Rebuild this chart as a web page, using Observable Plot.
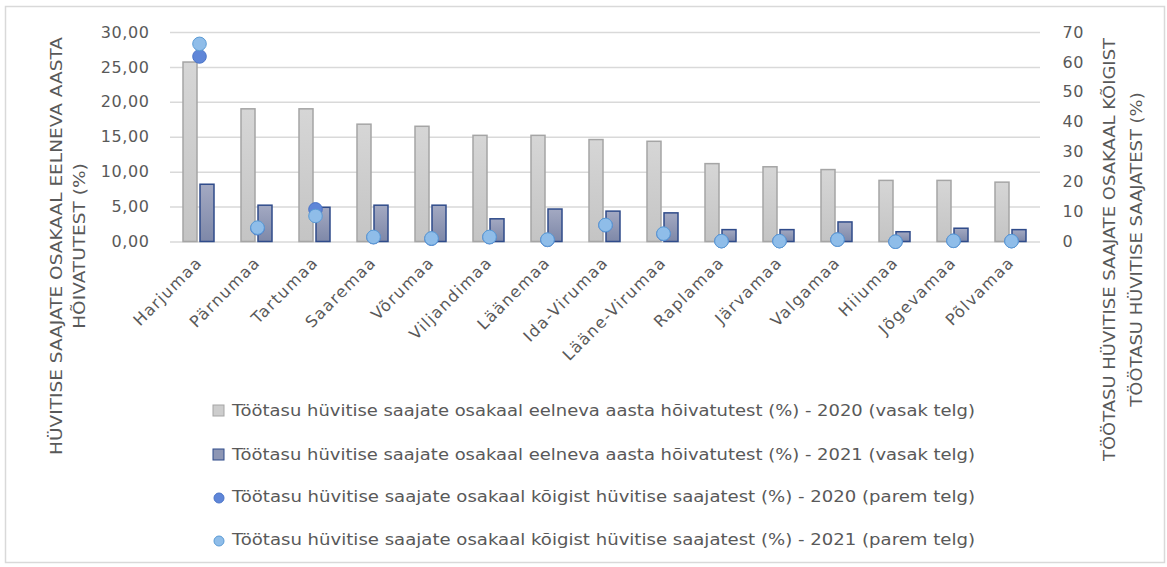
<!DOCTYPE html>
<html>
<head>
<meta charset="utf-8">
<script src="https://cdn.jsdelivr.net/npm/d3@7"></script>
<script src="https://cdn.jsdelivr.net/npm/@observablehq/plot@0.6"></script>
<style>
  html, body { margin: 0; padding: 0; background: #fff; }
  #wrap { position: relative; width: 1167px; height: 567px; overflow: hidden; font-family: "DejaVu Sans", sans-serif; }
  #chart { position: absolute; left: 0; top: 0; }
  #overlay { position: absolute; left: 0; top: 0; pointer-events: none; }
</style>
</head>
<body>
<div id="wrap">
  <div id="chart"></div>
  <svg id="overlay" width="1167" height="567"></svg>
</div>
<script>
// ---- data ----
const regions = ["Harjumaa","Pärnumaa","Tartumaa","Saaremaa","Võrumaa","Viljandimaa","Läänemaa","Ida-Virumaa","Lääne-Virumaa","Raplamaa","Järvamaa","Valgamaa","Hiiumaa","Jõgevamaa","Põlvamaa"];
// share of previous year's employed (%), left axis
const employed2020 = [25.7, 19.0, 19.0, 16.8, 16.5, 15.2, 15.2, 14.6, 14.35, 11.15, 10.7, 10.3, 8.75, 8.75, 8.5];
const employed2021 = [8.2, 5.2, 4.9, 5.2, 5.2, 3.25, 4.65, 4.35, 4.1, 1.7, 1.7, 2.8, 1.4, 1.9, 1.7];
// share of all benefit recipients (%), right axis
const recipients2020 = [62.0, 4.6, 10.9, 1.6, 1.1, 1.6, 0.7, 5.6, 2.7, 0.3, 0.3, 0.8, 0.1, 0.4, 0.3];
const recipients2021 = [66.2, 4.8, 8.7, 1.7, 1.2, 1.7, 0.8, 5.7, 2.8, 0.3, 0.3, 0.8, 0.1, 0.4, 0.3];
const leftTicks = [0, 5, 10, 15, 20, 25, 30];
const rightTicks = [0, 10, 20, 30, 40, 50, 60, 70];
const leftMax = 30, rightMax = 70;

const legendLabels = [
  "Töötasu hüvitise saajate osakaal eelneva aasta hõivatutest (%) - 2020 (vasak telg)",
  "Töötasu hüvitise saajate osakaal eelneva aasta hõivatutest (%) - 2021 (vasak telg)",
  "Töötasu hüvitise saajate osakaal kõigist hüvitise saajatest (%) - 2020 (parem telg)",
  "Töötasu hüvitise saajate osakaal kõigist hüvitise saajatest (%) - 2021 (parem telg)"
];
const leftTitle = ["HÜVITISE SAAJATE OSAKAAL EELNEVA AASTA", "HÕIVATUTEST (%)"];
const rightTitle = ["TÖÖTASU HÜVITISE SAAJATE OSAKAAL KÕIGIST", "TÖÖTASU HÜVITISE SAAJATEST (%)"];

const rows = regions.map((r, i) => ({
  region: r,
  e2020: employed2020[i], e2021: employed2021[i],
  r2020: recipients2020[i], r2021: recipients2021[i]
}));
const toLeft = v => v * leftMax / rightMax;
const fmt = d => d.toFixed(2).replace(".", ",");

const textColor = "#595959";

const chart = Plot.plot({
  width: 1167,
  height: 380,
  marginLeft: 170,
  marginRight: 127,
  marginTop: 32,
  marginBottom: 138.5,
  style: { fontFamily: "DejaVu Sans, sans-serif", fontSize: "16px", color: textColor, background: "transparent" },
  x: { domain: regions, padding: 0, label: null },
  y: { domain: [0, leftMax], label: null },
  marks: [
    Plot.ruleY(leftTicks, { stroke: "#d9d9d9", strokeWidth: 1.5 }),
    Plot.barY(rows, { x: "region", y: "e2020", insetLeft: 13, insetRight: 31, fill: "url(#gGray)", stroke: "#a5a5a5", strokeWidth: 1.5 }),
    Plot.barY(rows, { x: "region", y: "e2021", insetLeft: 30, insetRight: 14, fill: "url(#gBlue)", stroke: "#2f4b8a", strokeWidth: 1.5 }),
    Plot.dot(rows, { x: "region", y: d => toLeft(d.r2020), r: 6.8, fill: "#5f86d8", stroke: "#4a74c8", strokeWidth: 1 }),
    Plot.dot(rows, { x: "region", y: d => toLeft(d.r2021), r: 6.8, fill: "#8fbde9", stroke: "#5b9bd5", strokeWidth: 1 }),
    Plot.axisY(leftTicks, { anchor: "left", tickSize: 0, tickPadding: 21, tickFormat: fmt, label: null }),
    Plot.axisY(rightTicks.map(toLeft), { anchor: "right", tickSize: 0, tickPadding: 22, tickFormat: d => String(Math.round(d * rightMax / leftMax)), label: null }),
    Plot.axisX({ tickRotate: -45, tickSize: 0, tickPadding: 18, label: null })
  ]
});

d3.select(chart).insert("defs", ":first-child").html(`
  <linearGradient id="gGray" x1="0" y1="0" x2="0" y2="1">
    <stop offset="0" stop-color="#d6d6d6"/><stop offset="1" stop-color="#c4c4c4"/>
  </linearGradient>
  <linearGradient id="gBlue" x1="0" y1="0" x2="0" y2="1">
    <stop offset="0" stop-color="#a3a9c2"/><stop offset="1" stop-color="#7e88a8"/>
  </linearGradient>`);
d3.select(chart).selectAll("g[aria-label='y-axis tick label']").style("letter-spacing", "0.6px");
d3.select(chart).selectAll("g[aria-label='x-axis tick label']").style("letter-spacing", "1.4px");
document.getElementById("chart").appendChild(chart);

// ---- overlay: border, axis titles, legend ----
const ov = d3.select("#overlay");
ov.append("rect").attr("x", 5.5).attr("y", 6.5).attr("width", 1159).attr("height", 556)
  .attr("fill", "none").attr("stroke", "#d9d9d9").attr("stroke-width", 1.5);

// two-line rotated axis title: first line fitted between yBottom and yTop,
// second line scaled by the same factor and centred on the same point
function vtitle(x1, x2, yBottom, yTop, lines) {
  const mk = (x, t) => ov.append("text")
    .attr("dominant-baseline", "central")
    .attr("text-anchor", "start")
    .attr("fill", textColor)
    .style("font-family", "DejaVu Sans, sans-serif")
    .style("font-size", "15px")
    .text(t);
  const a = mk(x1, lines[0]), b = mk(x2, lines[1]);
  const la = a.node().getComputedTextLength(), lb = b.node().getComputedTextLength();
  const target = yBottom - yTop, k = target / la, lenB = lb * k;
  const cy = (yBottom + yTop) / 2;
  a.attr("transform", `translate(${x1},${yBottom}) rotate(-90)`)
   .attr("textLength", target).attr("lengthAdjust", "spacingAndGlyphs");
  b.attr("transform", `translate(${x2},${cy + lenB / 2}) rotate(-90)`)
   .attr("textLength", lenB).attr("lengthAdjust", "spacingAndGlyphs");
}
vtitle(57, 80, 455, 37, leftTitle);
vtitle(1110, 1137, 461, 38, rightTitle);

const legendY = [411, 455, 497, 540];
const lg = ov.append("g");
legendLabels.forEach((t, i) => {
  const y = legendY[i];
  if (i === 0) lg.append("rect").attr("x", 213).attr("y", y - 6).attr("width", 11).attr("height", 11).attr("fill", "#cdcdcd").attr("stroke", "#a5a5a5");
  if (i === 1) lg.append("rect").attr("x", 213).attr("y", y - 6).attr("width", 11).attr("height", 11).attr("fill", "#8d96b4").attr("stroke", "#2f4b8a");
  if (i === 2) lg.append("circle").attr("cx", 219).attr("cy", y + 1).attr("r", 5).attr("fill", "#5f86d8").attr("stroke", "#4a74c8");
  if (i === 3) lg.append("circle").attr("cx", 219).attr("cy", y + 1).attr("r", 5).attr("fill", "#8fbde9").attr("stroke", "#5b9bd5");
  lg.append("text").attr("x", 232).attr("y", y)
    .attr("dominant-baseline", "central")
    .attr("textLength", 743)
    .attr("lengthAdjust", "spacingAndGlyphs")
    .attr("fill", textColor)
    .style("font-family", "DejaVu Sans, sans-serif")
    .style("font-size", "15.5px")
    .text(t);
});
</script>
</body>
</html>
